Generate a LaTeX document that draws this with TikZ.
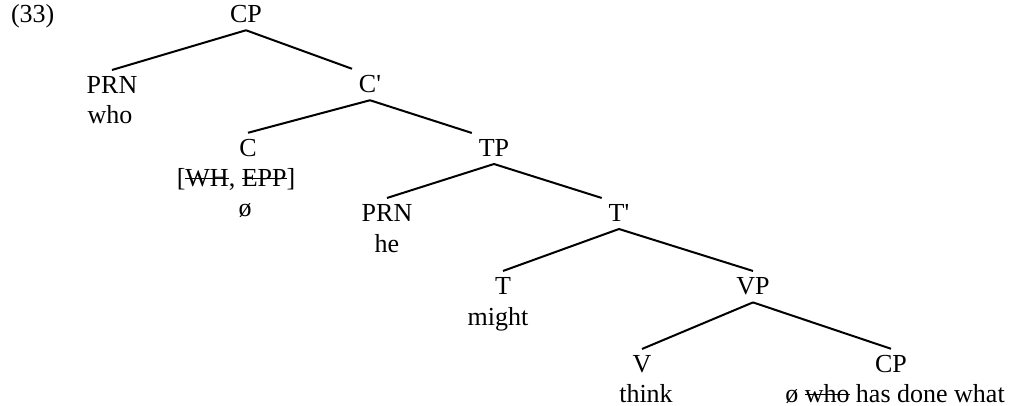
\documentclass[tikz,border=0pt]{standalone}
\usepackage{fontspec}
\setmainfont{Liberation Serif}
\newlength\strklen
\newcommand\strk[1]{\settowidth\strklen{#1}\rlap{\rule[0.3em]{\strklen}{0.06em}}#1}
\begin{document}
\begin{tikzpicture}[x=0.5pt, y=-0.5pt, line width=1pt,
  every node/.style={font=\fontsize{13}{15}\selectfont, inner sep=3pt, anchor=base}]
\useasboundingbox (0,0) rectangle (1013,406);
\node[anchor=base west] (ex) at (4,23) {(33)};
\node (cp) at (246,23) {CP};
\node (prn1) at (112,94) {PRN};
\node (who) at (110,124) {who};
\node (cbar) at (370,93) {C\textquotesingle};
\node (c) at (248,157) {C};
\node (feat) at (236,187) {[\strk{WH}, \strk{EPP}]};
\node (cnull) at (245,217) {ø};
\node (tp) at (494,157) {TP};
\node (prn2) at (387,222) {PRN};
\node (he) at (387,253) {he};
\node (tbar) at (619,222) {T\textquotesingle};
\node (t) at (503,295) {T};
\node (might) at (498,326) {might};
\node (vp) at (753,295) {VP};
\node (v) at (642,373) {V};
\node (think) at (646,403) {think};
\node (cp2) at (891,373) {CP};
\node (cpw) at (895,403) {ø \strk{who} has done what};
\draw (cp.south) -- (prn1.north);
\draw (cp.south) -- (cbar.north west);
\draw (cbar.south) -- (c.north);
\draw (cbar.south) -- (tp.north west);
\draw (tp.south) -- (prn2.north);
\draw (tp.south) -- (tbar.north west);
\draw (tbar.south) -- (t.north);
\draw (tbar.south) -- (vp.north);
\draw (vp.south) -- (v.north);
\draw (vp.south) -- (cp2.north);
\end{tikzpicture}
\end{document}
